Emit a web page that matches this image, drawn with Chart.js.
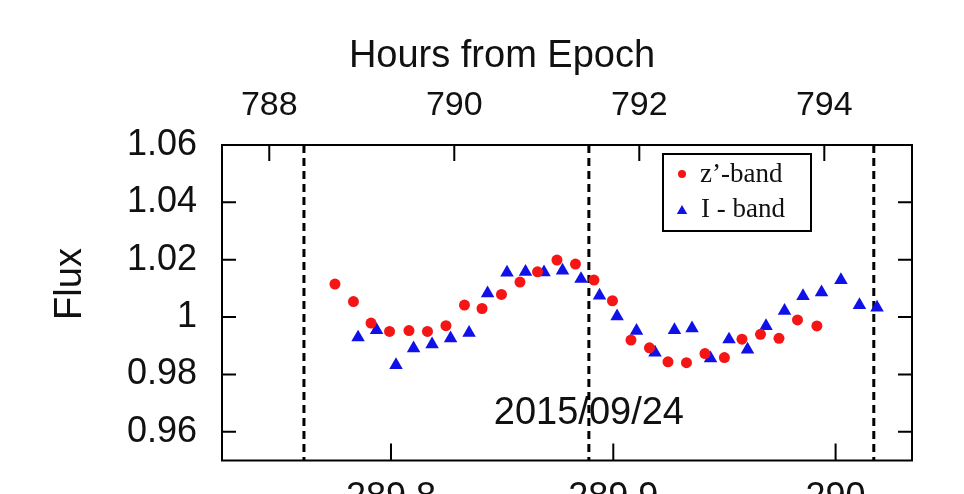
<!DOCTYPE html>
<html>
<head>
<meta charset="utf-8">
<script src="https://cdn.jsdelivr.net/npm/chart.js@4.4.1/dist/chart.umd.min.js"></script>
<style>
  html, body { margin: 0; padding: 0; background: #fff; overflow: hidden; }
  #wrap { width: 964px; height: 540px; }
</style>
</head>
<body>
<div id="wrap"><canvas id="grafica" width="964" height="540"></canvas></div>
<script>
// z'-band photometry (hours from epoch, normalised flux)
const zHours = [788.71, 788.91, 789.10, 789.30, 789.51, 789.71, 789.91, 790.11, 790.30,
  790.51, 790.71, 790.90, 791.11, 791.31, 791.51, 791.71, 791.91, 792.11, 792.31, 792.51,
  792.71, 792.92, 793.11, 793.31, 793.51, 793.71, 793.92];
const zFlux = [1.0115, 1.0054, 0.9979, 0.9950, 0.9953, 0.9950, 0.9970, 1.0042, 1.0030,
  1.0079, 1.0122, 1.0158, 1.0199, 1.0185, 1.0129, 1.0057, 0.9920, 0.9893, 0.9844, 0.9841,
  0.9873, 0.9859, 0.9923, 0.9940, 0.9926, 0.9990, 0.9969];

// I-band photometry
const iHours = [788.96, 789.16, 789.37, 789.56, 789.76, 789.96, 790.16, 790.36, 790.57,
  790.77, 790.97, 791.17, 791.37, 791.57, 791.76, 791.97, 792.17, 792.38, 792.57, 792.77,
  792.97, 793.17, 793.37, 793.57, 793.77, 793.97, 794.18, 794.38, 794.57];
const iFlux = [0.9929, 0.9955, 0.9833, 0.9891, 0.9905, 0.9926, 0.9945, 1.0083, 1.0155,
  1.0158, 1.0156, 1.0162, 1.0133, 1.0075, 1.0003, 0.9952, 0.9876, 0.9955, 0.9961, 0.9856,
  0.9922, 0.9887, 0.9969, 1.0022, 1.0073, 1.0086, 1.0129, 1.0042, 1.0033];

const hourTicks = [788, 790, 792, 794];
const dayTicks = [289.8, 289.9, 290.0];
const fluxTicks = [0.96, 0.98, 1.00, 1.02, 1.04, 1.06];
const epochLines = [788.375, 791.455, 794.535];
const dateLabel = '2015/09/24';
const dateLabelFlux = 0.9665;
const topTitle = 'Hours from Epoch';
const leftTitle = 'Flux';

const sans = '"Liberation Sans", Arial, sans-serif';
const serif = '"Liberation Serif", "Times New Roman", serif';

function toPoints(xs, ys) {
  return xs.map((x, i) => ({ x, y: ys[i] }));
}

const marcoPlugin = {
  id: 'marco',
  beforeDatasetsDraw(chart) {
    const { ctx, chartArea: a, scales } = chart;
    ctx.save();
    ctx.font = '38px ' + sans;
    ctx.fillStyle = '#111';
    ctx.textAlign = 'center';
    ctx.textBaseline = 'middle';
    ctx.fillText(dateLabel, scales.x2.getPixelForValue(epochLines[1]), scales.y.getPixelForValue(dateLabelFlux));

    ctx.setLineDash([8, 5]);
    ctx.lineWidth = 3;
    ctx.strokeStyle = '#000';
    epochLines.forEach(h => {
      const x = scales.x2.getPixelForValue(h);
      ctx.beginPath();
      ctx.moveTo(x, a.top);
      ctx.lineTo(x, a.bottom);
      ctx.stroke();
    });
    ctx.restore();
  },
  afterDraw(chart) {
    const { ctx, chartArea: a, scales } = chart;
    ctx.save();
    ctx.strokeStyle = '#000';
    ctx.lineWidth = 2;
    ctx.strokeRect(a.left, a.top, a.right - a.left, a.bottom - a.top);

    // inward tick marks
    ctx.beginPath();
    hourTicks.forEach(h => {
      const x = scales.x2.getPixelForValue(h);
      ctx.moveTo(x, a.top); ctx.lineTo(x, a.top + 16);
    });
    dayTicks.forEach(d => {
      const x = scales.x.getPixelForValue(d);
      ctx.moveTo(x, a.bottom); ctx.lineTo(x, a.bottom - 17);
    });
    fluxTicks.forEach(f => {
      const y = scales.y.getPixelForValue(f);
      ctx.moveTo(a.left, y); ctx.lineTo(a.left + 14, y);
      ctx.moveTo(a.right, y); ctx.lineTo(a.right - 14, y);
    });
    ctx.stroke();

    // axis titles (offset like the original figure)
    ctx.fillStyle = '#111';
    ctx.font = '38px ' + sans;
    ctx.textAlign = 'center';
    ctx.textBaseline = 'middle';
    ctx.fillText(topTitle, a.left + 280, 57);
    ctx.save();
    ctx.translate(71, a.top + 139);
    ctx.rotate(-Math.PI / 2);
    ctx.fillText(leftTitle, 0, 0);
    ctx.restore();

    // legend
    const lx = a.left + 441, ly = a.top + 9;
    ctx.fillStyle = '#fff';
    ctx.fillRect(lx, ly, 148, 77);
    ctx.strokeRect(lx, ly, 148, 77);
    const ds = chart.data.datasets;
    ctx.font = '27px ' + serif;
    ctx.textAlign = 'left';
    ctx.textBaseline = 'alphabetic';
    ctx.fillStyle = ds[0].backgroundColor;
    ctx.beginPath();
    ctx.arc(lx + 19, ly + 20, 4, 0, Math.PI * 2);
    ctx.fill();
    ctx.fillStyle = ds[1].backgroundColor;
    const tx = lx + 19, ty = ly + 57, r = 6;
    ctx.beginPath();
    ctx.moveTo(tx, ty - r);
    ctx.lineTo(tx + r * 0.866, ty + r / 2);
    ctx.lineTo(tx - r * 0.866, ty + r / 2);
    ctx.closePath();
    ctx.fill();
    ctx.fillStyle = '#111';
    ctx.fillText(ds[0].label, lx + 37, ly + 28);
    ctx.fillText(ds[1].label, lx + 38, ly + 63);
    ctx.restore();
  }
};

const ctx = document.getElementById('grafica').getContext('2d');
const chart = new Chart(ctx, {
  type: 'scatter',
  data: {
    datasets: [
      {
        label: 'z\u2019-band',
        data: toPoints(zHours, zFlux),
        xAxisID: 'x2',
        yAxisID: 'y',
        pointStyle: 'circle',
        pointRadius: 5.5,
        borderWidth: 0,
        backgroundColor: '#f51515',
        borderColor: '#f51515'
      },
      {
        label: 'I - band',
        data: toPoints(iHours, iFlux),
        xAxisID: 'x2',
        yAxisID: 'y',
        pointStyle: 'triangle',
        pointRadius: 7.8,
        borderWidth: 0,
        backgroundColor: '#1010e8',
        borderColor: '#1010e8'
      }
    ]
  },
  options: {
    responsive: false,
    animation: false,
    devicePixelRatio: 1,
    layout: { padding: { left: 0, right: 52, top: 0, bottom: 0 } },
    plugins: {
      legend: { display: false },
      tooltip: { enabled: false }
    },
    scales: {
      x: {
        type: 'linear',
        position: 'bottom',
        min: 289.72398,
        max: 290.03437,
        afterBuildTicks: s => { s.ticks = dayTicks.map(v => ({ value: v })); },
        afterFit: s => { s.height = 79.5; },
        ticks: {
          font: { size: 36, family: sans },
          color: '#111',
          padding: 16,
          maxRotation: 0,
          autoSkip: false,
          callback: v => String(+v.toFixed(1))
        },
        grid: { display: false, drawTicks: false },
        border: { display: false }
      },
      x2: {
        type: 'linear',
        position: 'top',
        min: 787.489,
        max: 794.948,
        afterBuildTicks: s => { s.ticks = hourTicks.map(v => ({ value: v })); },
        afterFit: s => { s.height = 145; },
        ticks: {
          font: { size: 34, family: sans },
          color: '#111',
          padding: 19,
          maxRotation: 0,
          autoSkip: false
        },
        grid: { display: false, drawTicks: false },
        border: { display: false }
      },
      y: {
        type: 'linear',
        position: 'left',
        min: 0.95,
        max: 1.06,
        afterBuildTicks: s => { s.ticks = fluxTicks.map(v => ({ value: v })); },
        afterFit: s => { s.width = 222; },
        ticks: {
          font: { size: 36, family: sans },
          color: '#111',
          padding: 25,
          autoSkip: false,
          callback: v => String(+v.toFixed(2))
        },
        grid: { display: false, drawTicks: false },
        border: { display: false }
      }
    }
  },
  plugins: [marcoPlugin]
});
</script>
</body>
</html>
